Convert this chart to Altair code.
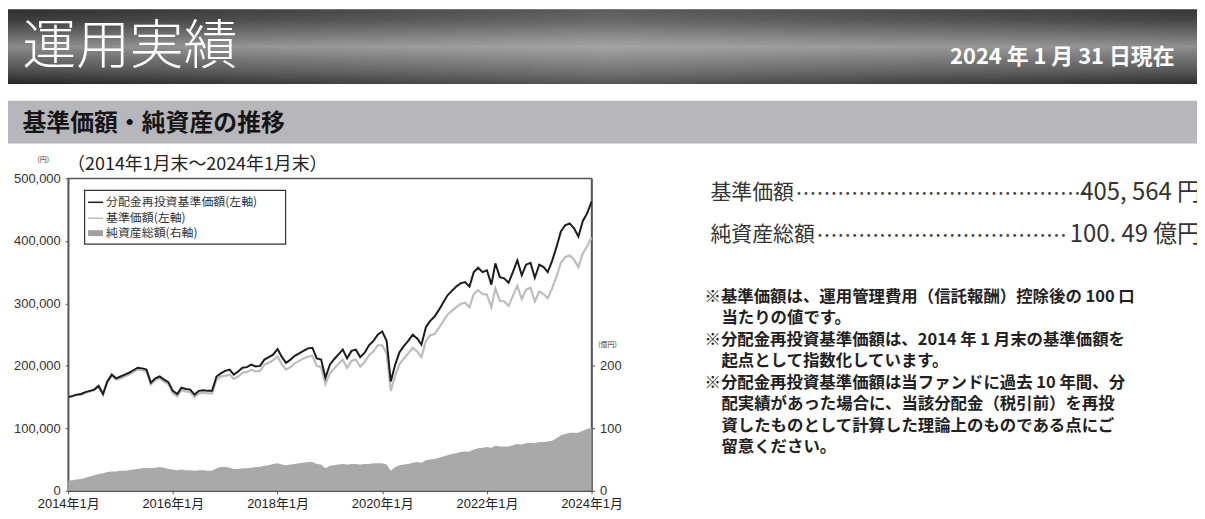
import altair as alt
import pandas as pd

# ---------------- data ----------------
# monthly, 2014-01 .. 2024-01
reinvest_nav = [
    150000, 152000, 154000, 155000, 158000, 160000, 162000, 168000, 155000, 175000, 186000, 180000,
    183000, 186000, 189000, 193000, 197000, 196000, 194000, 173000, 180000, 183000, 178000, 174000,
    160000, 155000, 165000, 163000, 162000, 154000, 160000, 161000, 160000, 160000, 183000, 188000,
    192000, 194000, 186000, 191000, 197000, 198000, 202000, 199000, 200000, 210000, 214000, 218000,
    227000, 214000, 205000, 210000, 216000, 220000, 224000, 228000, 229000, 212000, 210000, 181000,
    202000, 211000, 218000, 226000, 212000, 224000, 226000, 214000, 221000, 233000, 240000, 250000,
    255000, 240000, 175000, 202000, 222000, 232000, 240000, 250000, 244000, 234000, 262000, 272000,
    279000, 290000, 301000, 313000, 320000, 327000, 332000, 334000, 327000, 350000, 357000, 350000,
    353000, 330000, 364000, 342000, 340000, 333000, 350000, 369000, 345000, 362000, 365000, 341000,
    362000, 358000, 350000, 368000, 390000, 415000, 425000, 428000, 420000, 407000, 432000, 444000,
    463000,
]
base_nav = [
    150000, 151000, 153000, 154000, 157000, 159000, 161000, 167000, 154000, 174000, 184000, 178000,
    180000, 183000, 186000, 190000, 194000, 193000, 191000, 170000, 177000, 180000, 175000, 171000,
    156000, 151000, 161000, 159000, 158000, 150000, 156000, 157000, 156000, 156000, 178000, 183000,
    184000, 186000, 179000, 183000, 189000, 190000, 194000, 191000, 192000, 202000, 205000, 209000,
    215000, 202000, 194000, 198000, 204000, 208000, 212000, 215000, 216000, 200000, 198000, 171000,
    188000, 196000, 203000, 210000, 197000, 208000, 210000, 199000, 206000, 217000, 223000, 233000,
    233000, 220000, 160000, 185000, 203000, 212000, 220000, 229000, 223000, 214000, 240000, 249000,
    251000, 261000, 271000, 282000, 288000, 294000, 299000, 301000, 294000, 315000, 321000, 315000,
    314000, 294000, 324000, 304000, 303000, 296000, 312000, 328000, 307000, 322000, 325000, 303000,
    319000, 315000, 308000, 324000, 343000, 365000, 374000, 377000, 370000, 358000, 380000, 391000,
    405564,
]
net_assets = [  # 億円
    16, 17, 18, 19, 21, 23, 25, 27, 28, 30, 31, 31,
    32, 32, 33, 34, 35, 36, 37, 36, 37, 38, 37, 35,
    34, 33, 34, 33, 33, 32, 33, 33, 32, 32, 36, 38,
    38, 37, 35, 35, 36, 36, 37, 38, 38, 40, 41, 43,
    44, 42, 41, 42, 43, 44, 45, 46, 46, 43, 42, 36,
    40, 41, 42, 43, 42, 43, 43, 42, 43, 43, 44, 44,
    44, 42, 32, 38, 41, 42, 43, 45, 46, 45, 49, 50,
    51, 53, 55, 57, 59, 60, 62, 63, 63, 66, 68, 69,
    70, 69, 72, 71, 71, 71, 73, 75, 74, 76, 77, 76,
    78, 78, 79, 80, 84, 89, 91, 93, 93, 93, 96, 99,
    100.49,
]
dates = [f"{2014 + i // 12}-{i % 12 + 1:02d}-01" for i in range(len(reinvest_nav))]

tick_years = [2014, 2016, 2018, 2020, 2022, 2024]
left_ticks = [0, 100000, 200000, 300000, 400000, 500000]
right_ticks = [0, 100, 200]

series_names = ["分配金再投資基準価額(左軸)", "基準価額(左軸)", "純資産総額(右軸)"]

page_title = "運用実績"
as_of = "2024 年 1 月 31 日現在"
section_title = "基準価額・純資産の推移"
period_text = "（2014年1月末～2024年1月末）"
nav_label, nav_value = "基準価額", "405, 564 円"
asset_label, asset_value = "純資産総額", "100. 49 億円"
notes = [
    ("※基準価額は、運用管理費用（信託報酬）控除後の 100 口", 0),
    ("当たりの値です。", 1),
    ("※分配金再投資基準価額は、2014 年 1 月末の基準価額を", 0),
    ("起点として指数化しています。", 1),
    ("※分配金再投資基準価額は当ファンドに過去 10 年間、分", 0),
    ("配実績があった場合に、当該分配金（税引前）を再投", 1),
    ("資したものとして計算した理論上のものである点にご", 1),
    ("留意ください。", 1),
]

df = pd.DataFrame({"date": dates, "reinvest": reinvest_nav, "nav": base_nav, "assets": net_assets})
one = pd.DataFrame({"k": [0]})

JP = "Noto Sans CJK JP"
NUM = "Liberation Sans, Noto Sans CJK JP"
NARROW = "Liberation Sans Narrow, Arial Narrow, Noto Sans CJK JP"

# ---------------- plot ----------------
xenc = alt.X(
    "date:T",
    title=None,
    scale=alt.Scale(type="utc",
                    domain=[alt.DateTime(year=2014, month=1, date=1, utc=True),
                            alt.DateTime(year=2024, month=1, date=1, utc=True)]),
    axis=alt.Axis(values=[alt.DateTime(year=y, month=1, date=1, utc=True) for y in tick_years],
                  labelExpr="utcFormat(datum.value, '%Y') + '年' + utcFormat(datum.value, '%-m') + '月'",
                  labelFlush=False, labelOverlap=False,
                  labelFontSize=13, labelColor="#222", labelFont=NUM, labelPadding=4,
                  tickSize=3, tickColor="#555", domainColor="#555", domainWidth=1.5, grid=False),
)

area = alt.Chart(df).mark_area(color="#a9a9a9").encode(
    x=xenc,
    y=alt.Y("assets:Q", title=None, scale=alt.Scale(domain=[0, 500]),
            axis=alt.Axis(orient="right", values=right_ticks, labelFontSize=13, labelColor="#333",
                          labelFont=NUM, labelPadding=5, tickSize=3, tickColor="#555",
                          domainColor="#555", domainWidth=1.5, grid=False)),
)

yleft_axis = alt.Axis(orient="left", values=left_ticks, format=",d", labelFontSize=13, labelColor="#333",
                      labelFont=NUM, labelPadding=5, tickSize=3, tickColor="#555",
                      domainColor="#555", domainWidth=1.5, grid=False)
gray_line = alt.Chart(df).mark_line(color="#bdbdbd", strokeWidth=2.2).encode(
    x=xenc, y=alt.Y("nav:Q", title=None, scale=alt.Scale(domain=[0, 500000]), axis=yleft_axis))
black_line = alt.Chart(df).mark_line(color="#1c1c1c", strokeWidth=2).encode(
    x=xenc, y=alt.Y("reinvest:Q", title=None, scale=alt.Scale(domain=[0, 500000]), axis=yleft_axis))
lines = alt.layer(gray_line, black_line)


def txt(s, x, y, size, align="left", color="#222", weight="normal", font=JP):
    return alt.Chart(one).mark_text(text=s, fontSize=size, align=align, baseline="middle",
                                    color=color, fontWeight=weight, font=font).encode(
        x=alt.value(x), y=alt.value(y))


def box(x, x2, y, y2, **kw):
    return alt.Chart(one).mark_rect(**kw).encode(
        x=alt.value(x), x2=alt.value(x2), y=alt.value(y), y2=alt.value(y2))


# header banners (coordinates relative to plot origin)
banner_grad = alt.LinearGradient(
    gradient="linear", x1=0, x2=0, y1=0, y2=1,
    stops=[alt.GradientStop(offset=0, color="#2e2e2e"),
           alt.GradientStop(offset=0.15, color="#3e3e3e"),
           alt.GradientStop(offset=0.5, color="#8a8a8a"),
           alt.GradientStop(offset=0.85, color="#4a4a4a"),
           alt.GradientStop(offset=1, color="#262626")])
sheen = alt.LinearGradient(
    gradient="linear", x1=0, x2=1, y1=0, y2=0,
    stops=[alt.GradientStop(offset=0, color="rgba(255,255,255,0)"),
           alt.GradientStop(offset=0.5, color="rgba(255,255,255,0.22)"),
           alt.GradientStop(offset=1, color="rgba(255,255,255,0.04)")])

decor = [
    box(-61.5, 1140, -170, -95, color=banner_grad),
    box(-61.5, 1140, -170, -95, color=sheen),
    txt(page_title, -46, -131, 54, color="white", weight=300),
    txt(as_of, 1112, -122, 22, align="right", color="white", weight="bold"),
    box(-61.5, 1140, -78, -35, color="#b7b7bb"),
    txt(section_title, -46, -55, 24, color="#151515", weight="bold"),
    txt(period_text, -1, -13, 18, color="#222"),
    txt("(円)", -25, -19, 7, align="center", color="#333"),
    txt("(億円)", 542, 167, 7, align="center", color="#333"),
    # legend
    box(16.5, 218.5, 12, 66, fill="white", stroke="#333", strokeWidth=1.2),
    alt.Chart(one).mark_rule(color="#1c1c1c", strokeWidth=1.5).encode(
        x=alt.value(20), x2=alt.value(35), y=alt.value(24)),
    alt.Chart(one).mark_rule(color="#bdbdbd", strokeWidth=1.5).encode(
        x=alt.value(20), x2=alt.value(35), y=alt.value(40)),
    box(20, 35, 52, 58, color="#a0a0a0"),
    txt(series_names[0], 38, 24, 12, color="#333"),
    txt(series_names[1], 38, 40, 12, color="#333"),
    txt(series_names[2], 38, 55, 12, color="#333"),
    # right-hand summary
    txt(nav_label, 645.5, 15, 21, color="#333"),
    txt("…" * 14, 731, 17, 21, color="#444"),
    txt(nav_value, 1138.5, 15, 24, align="right", color="#333", font=NARROW),
    txt(asset_label, 645.5, 57, 21, color="#333"),
    txt("…" * 12, 752, 59, 21, color="#444"),
    txt(asset_value, 1138.5, 57, 24, align="right", color="#333", font=NARROW),
]
for i, (line, indent) in enumerate(notes):
    decor.append(txt(line, 639.5 + 17 * indent, 119 + 21.6 * i, 16.5, color="#222", weight="bold"))

chart = alt.layer(area, lines, *decor).resolve_scale(y="independent").properties(
    width=526, height=314,
    padding={"left": 60.5, "top": 170, "right": 608.5, "bottom": 22},
    autosize=alt.AutoSizeParams(type="none"),
    background="white",
).configure_view(stroke="#555", strokeWidth=1.5)

chart.save("out.html", embed_options={"renderer": "svg", "actions": False})
